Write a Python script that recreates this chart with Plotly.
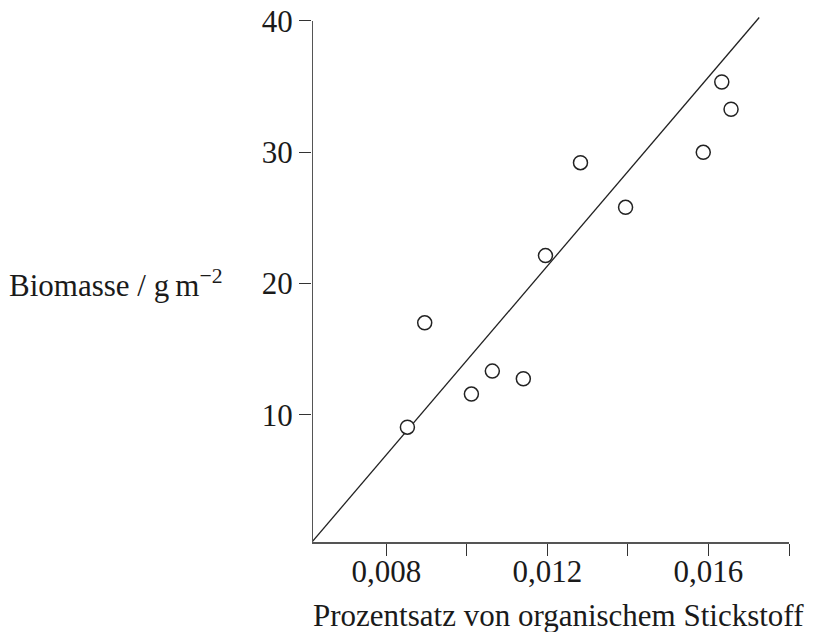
import plotly.graph_objects as go

# Data
nitrogen_pct = [0.00852, 0.00895, 0.01011, 0.01063, 0.01140, 0.01195,
                0.01282, 0.01394, 0.01587, 0.01633, 0.01656]
biomass = [9.05, 17.0, 11.57, 13.32, 12.74, 22.12,
           29.2, 25.8, 29.99, 35.35, 33.27]

fit_x = [0.00615, 0.01726]
fit_y = [0.3, 40.26]

x_ticks = [0.008, 0.012, 0.016]
x_ticklabels = ["0,008", "0,012", "0,016"]
x_minor_ticks = [0.010, 0.014, 0.018]
y_ticks = [10, 20, 30, 40]
y_ticklabels = ["10", "20", "30", "40"]

X_RANGE = [0.00615, 0.018]
Y_RANGE = [0.3, 40.3]
Y_AXIS_TOP = 40

FONT = "Liberation Serif, Times New Roman, serif"
TXT = "#1a1a1a"
FS = 31

fig = go.Figure()
fig.add_trace(go.Scatter(x=fit_x, y=fit_y, mode="lines",
                         line=dict(color="#222222", width=1.3),
                         hoverinfo="skip", showlegend=False))
fig.add_trace(go.Scatter(x=nitrogen_pct, y=biomass, mode="markers",
                         marker=dict(symbol="circle", size=14, color="white",
                                     line=dict(color="#222222", width=1.5)),
                         showlegend=False, cliponaxis=False))

# y axis line (ends at 40)
fig.add_shape(type="line", xref="x", yref="y",
              x0=X_RANGE[0], x1=X_RANGE[0], y0=Y_RANGE[0], y1=Y_AXIS_TOP,
              line=dict(color="#555555", width=2))

fig.update_layout(
    template="none",
    width=813, height=632,
    margin=dict(l=312, r=24, t=17, b=90, pad=0),
    plot_bgcolor="white", paper_bgcolor="white",
    font=dict(family=FONT, size=FS, color=TXT),
    xaxis=dict(range=X_RANGE, tickvals=x_ticks, ticktext=x_ticklabels,
               automargin=False, ticklabelstandoff=-11,
               showgrid=False, zeroline=False, showline=True,
               linecolor="#555555", linewidth=2,
               ticks="outside", ticklen=12, tickwidth=1.3, tickcolor="#333333",
               minor=dict(tickvals=x_minor_ticks, ticks="outside", ticklen=12,
                          tickwidth=1.3, tickcolor="#333333", showgrid=False),
               tickfont=dict(family=FONT, size=FS, color=TXT)),
    yaxis=dict(range=Y_RANGE, tickvals=y_ticks, ticktext=y_ticklabels,
               automargin=False,
               showgrid=False, zeroline=False, showline=False,
               ticks="outside", ticklen=12, tickwidth=1.3, tickcolor="#333333",
               tickfont=dict(family=FONT, size=FS, color=TXT)),
    annotations=[
        dict(text="Biomasse / g\u2009m<sup>\u22122</sup>", xref="paper", yref="y",
             x=-0.1824, y=20, xanchor="right", yanchor="middle",
             showarrow=False, font=dict(family=FONT, size=FS, color=TXT)),
        dict(text="Prozentsatz von organischem Stickstoff", xref="paper", yref="paper",
             x=1.0356, y=-0.14, xanchor="right", yanchor="middle",
             showarrow=False, font=dict(family=FONT, size=FS, color=TXT)),
    ],
)

fig.write_html("out.html", config={"displayModeBar": False},
               post_script="document.body.style.margin='0';document.body.style.padding='0';")
